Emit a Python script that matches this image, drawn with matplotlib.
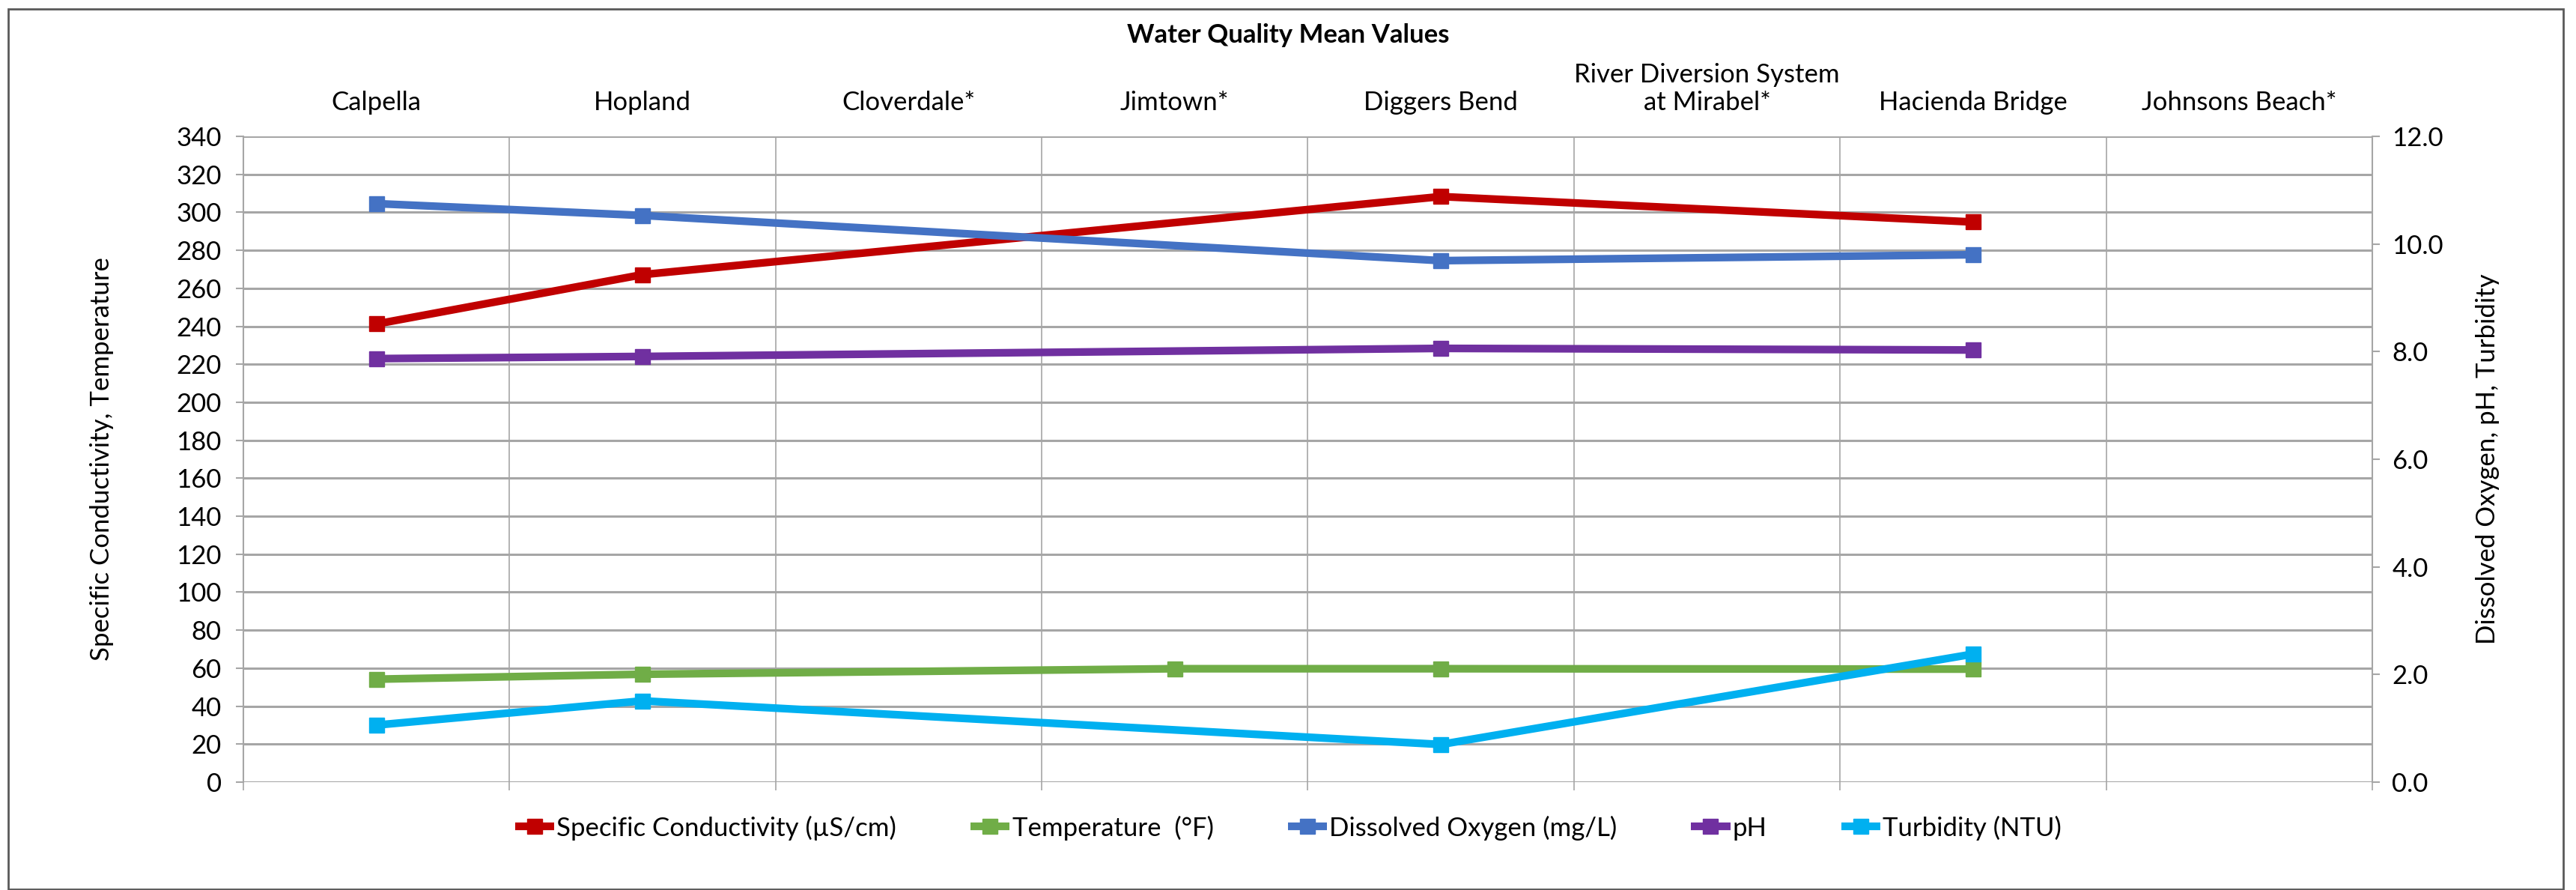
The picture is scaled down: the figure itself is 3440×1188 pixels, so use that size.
import numpy as np
import matplotlib
matplotlib.use("Agg")
import matplotlib.pyplot as plt
from matplotlib.patches import Rectangle
from matplotlib.ticker import FormatStrFormatter, FixedLocator

plt.rcParams['font.family'] = ['Lato', 'DejaVu Sans']

nan = np.nan
categories = ["Calpella", "Hopland", "Cloverdale*", "Jimtown*", "Diggers Bend",
              "River Diversion System\nat Mirabel*", "Hacienda Bridge", "Johnsons Beach*"]
spec_cond = [241.2, 267.2, nan, nan, 308.3, nan, 294.9, nan]          # left axis
temperature = [54.2, 56.8, nan, 59.7, 59.7, nan, 59.5, nan]           # left axis
dissolved_oxygen = [10.75, 10.53, nan, nan, 9.69, nan, 9.80, nan]     # right axis
ph = [7.87, 7.91, nan, nan, 8.06, nan, 8.03, nan]                     # right axis
turbidity = [1.06, 1.51, nan, nan, 0.70, nan, 2.38, nan]              # right axis

left_ticks = list(range(0, 341, 20))
right_ticks = [0, 2, 4, 6, 8, 10, 12]

W, H = 3441, 1188
fig = plt.figure(figsize=(W / 100, H / 100), dpi=100)
L, R, T, B = 325, 3168, 182, 1044
ax = fig.add_axes([L / W, 1 - B / H, (R - L) / W, (B - T) / H])
ax2 = ax.twinx()

FS = 25
grid_c = '#a6a6a6'
x = np.arange(len(categories))


def draw(axis, vals, color, label):
    v = np.array(vals, dtype=float)
    m = ~np.isnan(v)
    ln, = axis.plot(x[m], v[m], color=color, lw=7.4, marker='s', ms=14.5,
                    mec=color, mfc=color, label=label, solid_capstyle='butt',
                    solid_joinstyle='miter', clip_on=False, zorder=3)
    return ln


h1 = draw(ax, spec_cond, '#C00000', 'Specific Conductivity (µS/cm)')
h2 = draw(ax, temperature, '#70AD47', 'Temperature  (°F)')
h3 = draw(ax2, dissolved_oxygen, '#4472C4', 'Dissolved Oxygen (mg/L)')
h4 = draw(ax2, ph, '#7030A0', 'pH')
h5 = draw(ax2, turbidity, '#00B0F0', 'Turbidity (NTU)')

ax.set_xlim(-0.5, len(categories) - 0.5)
ax.set_ylim(0, 340)
ax2.set_ylim(0, 12)

# left axis
ax.yaxis.set_major_locator(FixedLocator(left_ticks))
ax.tick_params(axis='y', which='major', length=7, width=1.5, color=grid_c,
               labelsize=FS, pad=14)
ax.grid(axis='y', which='major', color=grid_c, lw=2.2)
# category axis: labels on top, boundary ticks/gridlines
ax.set_xticks(x)
ax.set_xticklabels(categories)
ax.tick_params(axis='x', which='major', length=0, bottom=False, labelbottom=False,
               top=False, labeltop=True, labelsize=FS, pad=21)
ax.set_xticks(np.arange(-0.5, len(categories)), minor=True)
ax.tick_params(axis='x', which='minor', length=8, width=1.2, color=grid_c,
               bottom=True, top=False)
ax.grid(axis='x', which='minor', color=grid_c, lw=1.2)
ax.set_axisbelow(True)

for s in ['top', 'bottom']:
    ax.spines[s].set_visible(False)
    ax2.spines[s].set_visible(False)
ax.spines['left'].set_color(grid_c)
ax.spines['left'].set_linewidth(1.5)
ax2.spines['right'].set_color(grid_c)
ax2.spines['right'].set_linewidth(1.5)
ax2.spines['left'].set_visible(False)
ax.spines['right'].set_visible(False)

# right axis
ax2.yaxis.set_major_locator(FixedLocator(right_ticks))
ax2.yaxis.set_major_formatter(FormatStrFormatter('%.1f'))
ax2.tick_params(axis='y', length=7, width=1.5, color=grid_c, labelsize=FS, pad=12)

ax.set_ylabel('Specific Conductivity, Temperature', fontsize=FS)
ax.yaxis.set_label_coords((152 - L) / (R - L), 0.5)
ax2.set_ylabel('Dissolved Oxygen, pH, Turbidity', fontsize=FS)
ax2.yaxis.set_label_coords((3306 - L) / (R - L), 0.5)

fig.text(0.5, 1 - 47 / H, 'Water Quality Mean Values', ha='center', va='center',
         fontsize=FS, fontweight='bold')

fig.legend(handles=[h1, h2, h3, h4, h5], loc='center', bbox_to_anchor=(0.5, 1 - 1105 / H),
           ncol=5, frameon=False, fontsize=FS, handlelength=1.5, handletextpad=0.1,
           columnspacing=2.85)

fig.patches.append(Rectangle((11 / W, 1 - 1187 / H), (3423 - 11) / W, (1187 - 12) / H,
                             transform=fig.transFigure, fill=False,
                             edgecolor='#595959', lw=2))

fig.savefig('out.png', dpi=100)
